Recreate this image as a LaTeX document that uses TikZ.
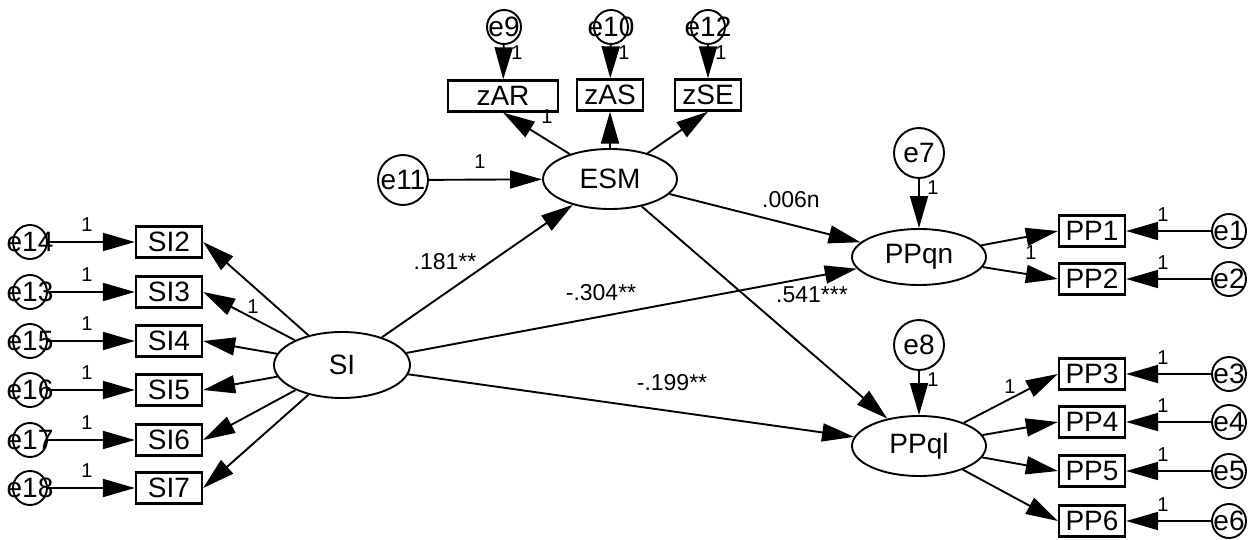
\documentclass[tikz,border=0pt]{standalone}
\usepackage{fontspec}
\setmainfont{Liberation Sans}
\usetikzlibrary{shapes.geometric,arrows.meta}
\begin{document}
\begin{tikzpicture}[x=1pt,y=-1pt,
 lat/.style={ellipse,draw,line width=1.9pt,minimum width=134pt,minimum height=60pt,inner sep=0pt,font=\fontsize{28}{30}\selectfont},
 obs/.style={rectangle,draw,line width=2.3pt,minimum width=66pt,minimum height=31pt,inner sep=0pt,font=\fontsize{28}{30}\selectfont},
 bigerr/.style={circle,draw,line width=1.9pt,minimum size=50pt,inner sep=0pt,font=\fontsize{28}{30}\selectfont},
 smerr/.style={circle,draw,line width=1.9pt,minimum size=34pt,inner sep=0pt},
 etxt/.style={inner sep=0pt,font=\fontsize{28}{30}\selectfont},
 arr/.style={-{Triangle[length=32pt,width=18pt]},line width=1.9pt},
 one/.style={inner sep=0pt,font=\fontsize{20}{22}\selectfont},
 coef/.style={inner sep=0pt,font=\fontsize{23}{25}\selectfont}]
\useasboundingbox (0,0) rectangle (1255,540);
% latent variables
\node[lat,minimum width=136pt,minimum height=66pt] (SI) at (342,365) {SI};
\node[lat] (ESM) at (610,179) {ESM};
\node[lat,minimum height=56pt] (PPqn) at (919,257) {PPqn};
\node[lat] (PPql) at (919,446) {PPql};
% SI indicators
\foreach \n/\e/\y in {2/14/242,3/13/292,4/15/341,5/16/390,6/17/440,7/18/488} {
  \node[obs] (SI\n) at (169,\y) {SI\n};
  \node[smerr] (e\e) at (30,\y) {};
  \node[etxt] at (e\e) {e\e};
  \draw[arr] (e\e) -- (SI\n);
  \node[one] at (87,\y-17) {1};
  \draw[arr] (SI) -- (SI\n.east);
}
\node[one] at (253,307) {1};
% ESM indicators
\node[obs,minimum width=110pt] (zAR) at (503,96) {zAR};
\node[obs] (zAS) at (610,95) {zAS};
\node[obs] (zSE) at (708,95) {zSE};
\foreach \b/\e/\x in {zAR/9/504,zAS/10/611,zSE/12/708} {
  \node[smerr] (e\e) at (\x,27) {};
  \node[etxt] at (e\e) {e\e};
  \draw[arr] (e\e) -- (\b);
  \node[one] at (\x+13,53) {1};
}
\draw[arr] (ESM) -- (zAR.south);
\draw[arr] (ESM) -- (zAS.south);
\draw[arr] (ESM) -- (zSE.south);
\node[one] at (547,117) {1};
% e11
\node[bigerr] (e11) at (403,180) {e11};
\draw[arr] (e11) -- (ESM);
\node[one] at (480,162) {1};
% e7, e8
\node[bigerr] (e7) at (919,153) {e7};
\draw[arr] (e7) -- (PPqn);
\node[one] at (933,188) {1};
\node[bigerr] (e8) at (919,345) {e8};
\draw[arr] (e8) -- (PPql);
\node[one] at (933,380) {1};
% PP indicators
\foreach \n/\y/\l in {1/231/PPqn,2/279/PPqn,3/374/PPql,4/422/PPql,5/471/PPql,6/521/PPql} {
  \node[obs] (PP\n) at (1092,\y) {PP\n};
  \node[smerr] (e\n) at (1229,\y) {};
  \node[etxt] at (e\n) {e\n};
  \draw[arr] (e\n) -- (PP\n);
  \node[one] at (1163,\y-16) {1};
  \draw[arr] (\l) -- (PP\n.west);
}
\node[one] at (1031,253) {1};
\node[one] at (1010,387) {1};
% structural paths
\draw[arr] (SI) -- (ESM);
\draw[arr] (SI) -- (PPqn);
\draw[arr] (SI) -- (PPql);
\draw[arr] (ESM) -- (PPqn);
\draw[arr] (ESM) -- (PPql);
\node[coef] at (445,262) {.181**};
\node[coef] at (791,200) {.006n};
\node[coef] at (601,293) {-.304**};
\node[coef] at (812,295) {.541***};
\node[coef] at (672,383) {-.199**};
\end{tikzpicture}
\end{document}
